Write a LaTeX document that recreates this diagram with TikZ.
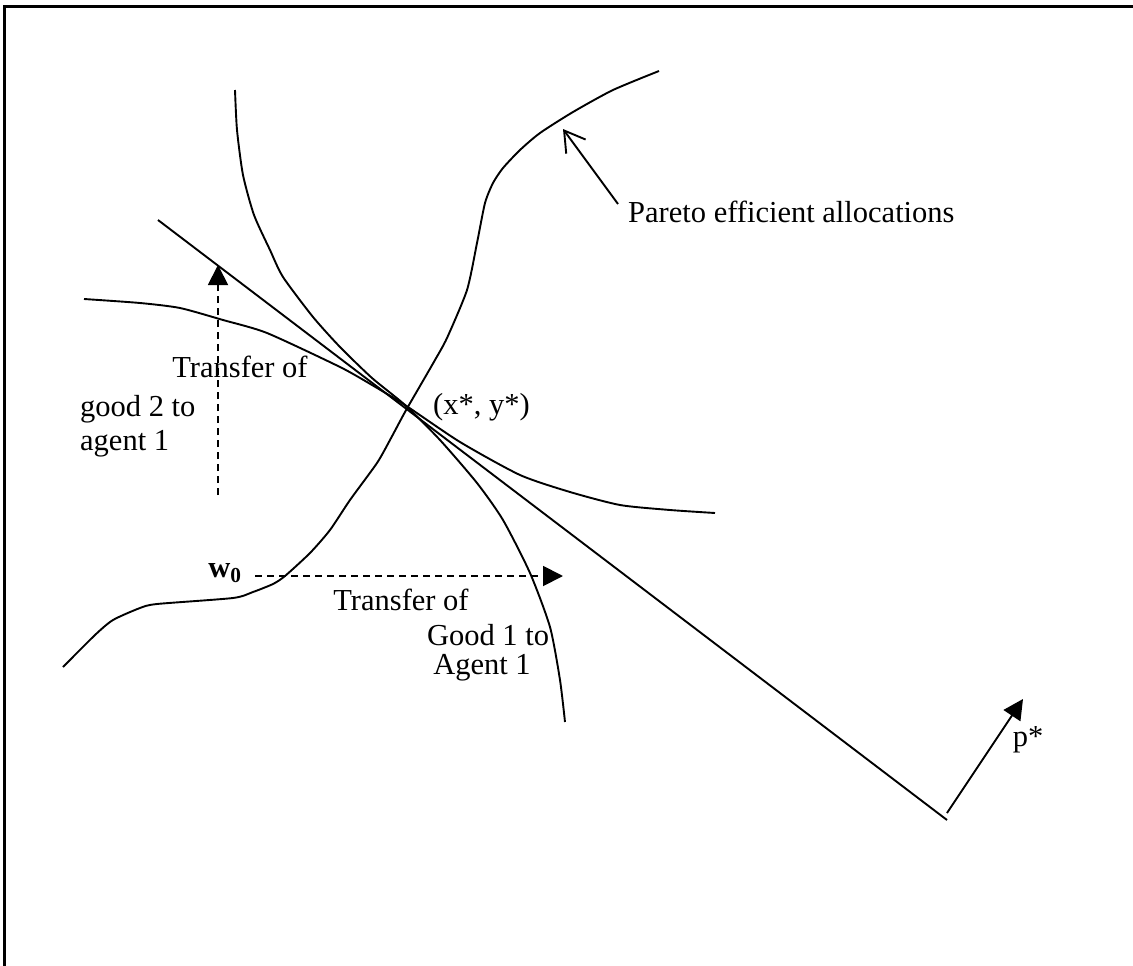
\documentclass[tikz,border=0pt]{standalone}
\usepackage{fontspec}
\setmainfont{Liberation Serif}
\usetikzlibrary{arrows.meta}
\begin{document}
\begin{tikzpicture}[x=1pt,y=-1pt,
  curve/.style={line width=1.9pt,line join=round},
  transfer/.style={line width=1.9pt,dash pattern=on 7pt off 5pt,-{Triangle[length=20pt,width=20pt]}},
  lbl/.style={inner sep=0pt,font=\fontsize{30.5}{35}\selectfont}]
\useasboundingbox (0,0) rectangle (1133,966);
\fill[white] (0,0) rectangle (1133,966);
% frame
\draw[line width=3pt] (4,975) -- (4,7) -- (1140,7);
% contract curve (Pareto efficient allocations)
\draw[curve] plot[smooth,tension=0.4] coordinates {(63,667) (95,635) (113,620) (140,608) (157,604) (233,598) (253,592) (273,584) (285,576) (310,553) (330,530) (350,500) (377,463) (390,440) (405,412) (420,386) (435,360) (447,338) (467,290) (477,243) (485,203) (493,183) (503,168) (520,150) (540,133) (573,112) (613,90) (659,71)};
% steep indifference curve
\draw[curve] plot[smooth,tension=0.4] coordinates {(235,90) (237,130) (243,175) (254,215) (270,250) (283,277) (313,317) (340,347) (372,378) (405,405) (440,440) (477,483) (503,520) (530,573) (550,627) (560,680) (565,722)};
% flat indifference curve
\draw[curve] plot[smooth,tension=0.4] coordinates {(84,299) (140,303) (180,308) (223,320) (267,333) (340,367) (372,385) (405,405) (460,442) (520,475) (570,492) (620,505) (670,510) (715,513)};
% budget line
\coordinate (b1) at (158,220);
\coordinate (b2) at (947,820);
\draw[curve] (b1) -- (b2);
% price vector
\coordinate (p0) at (947,813);
\coordinate (p1) at (1023,699);
\draw[line width=1.9pt,-{Triangle[length=20pt,width=20pt]}] (p0) -- (p1);
\node[lbl] (pstar) at (1028,740) {p*};
% Pareto label and arrow
\node[lbl,anchor=west] (pareto) at (628,212) {Pareto efficient allocations};
\coordinate (ps) at (618,204);
\coordinate (pa) at (563,129);
\draw[line width=1.9pt,-{Straight Barb[length=20pt,width=24pt]}] (ps) -- (pa);
% endowment and transfers
\node[inner sep=0pt,font=\fontsize{30.5}{35}\selectfont\bfseries] (w0) at (225,573) {w$_{\mathbf{0}}$};
\coordinate (h1) at (255,576);
\coordinate (h2) at (563,576);
\draw[transfer] (h1) -- (h2);
\coordinate (v1) at (218,495);
\coordinate (v2) at (218,265);
\draw[transfer] (v1) -- (v2);
% labels
\node[lbl] (t1) at (240,367) {Transfer of};
\node[lbl,anchor=west] (g2) at (80,409) {good 2 to};
\node[lbl,anchor=west] (a1) at (80,444) {agent 1};
\node[lbl,anchor=west] (xy) at (433,407) {(x*, y*)};
\node[lbl] (t2) at (401,600) {Transfer of};
\node[lbl] (g1) at (488,635) {Good 1 to};
\node[lbl] (a2) at (482,668) {Agent 1};
\end{tikzpicture}
\end{document}
